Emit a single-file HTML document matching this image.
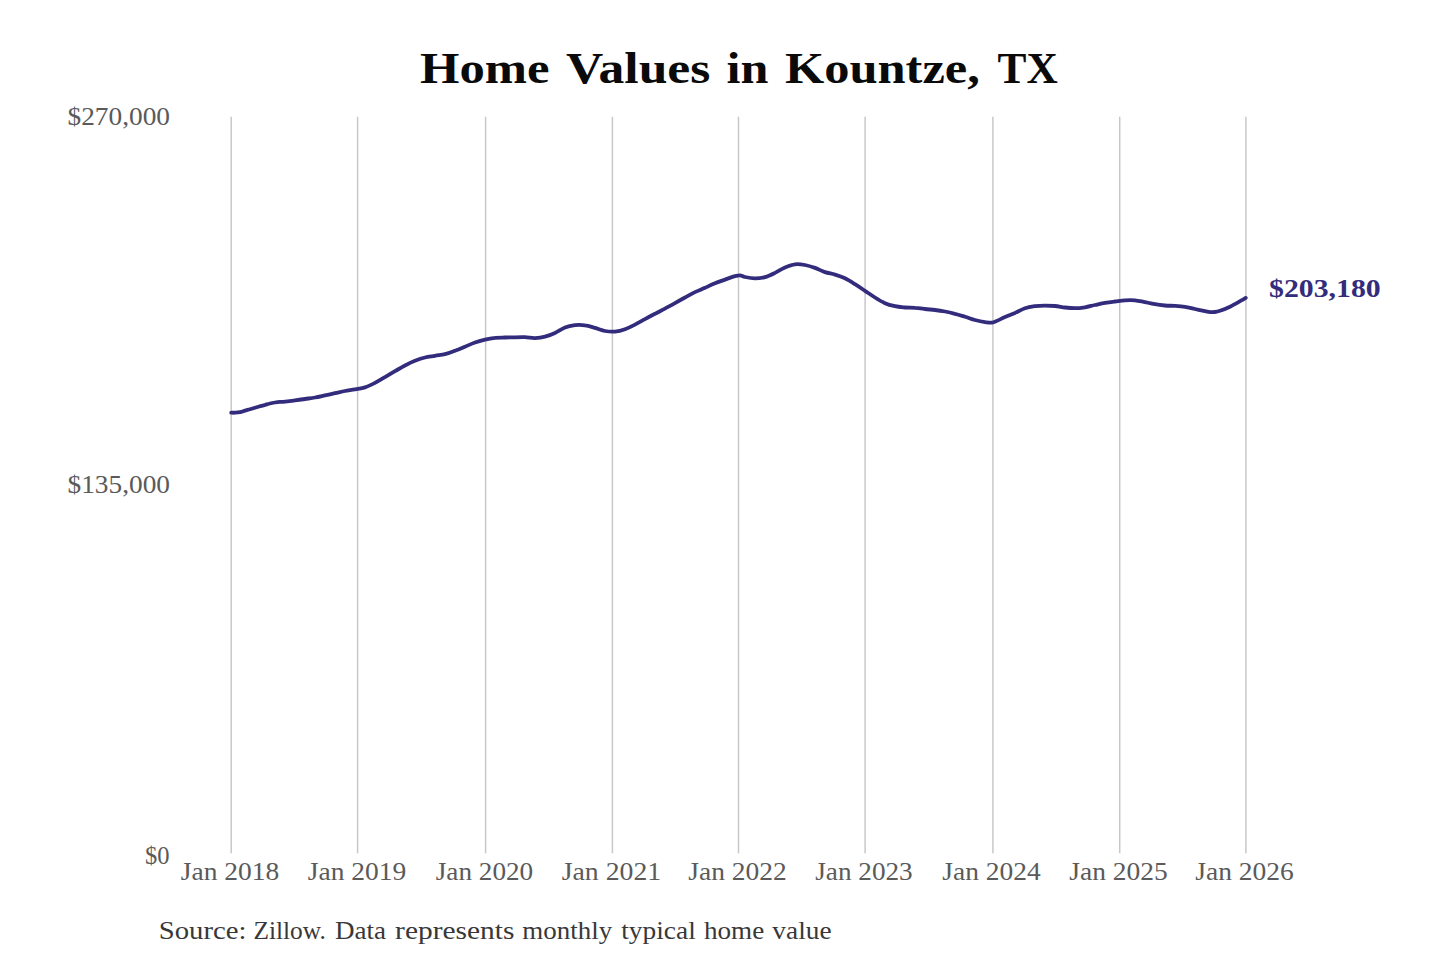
<!DOCTYPE html>
<html><head><meta charset="utf-8"><title>Home Values in Kountze, TX</title>
<style>
html,body{margin:0;padding:0;background:#fff;}
body{width:1440px;height:960px;overflow:hidden;position:relative;font-family:"Liberation Serif",serif;}
svg{position:absolute;left:0;top:0;display:block;}
text{font-family:"Liberation Serif",serif;}
</style></head><body>
<svg width="1440" height="960" viewBox="0 0 1440 960">
<rect width="1440" height="960" fill="#fff"/>
<g stroke="#c8c8c8" stroke-width="1.5" shape-rendering="auto">
<line x1="231.2" y1="116.7" x2="231.2" y2="853.3"/>
<line x1="357.6" y1="116.7" x2="357.6" y2="853.3"/>
<line x1="485.6" y1="116.7" x2="485.6" y2="853.3"/>
<line x1="612.4" y1="116.7" x2="612.4" y2="853.3"/>
<line x1="738.5" y1="116.7" x2="738.5" y2="853.3"/>
<line x1="865.1" y1="116.7" x2="865.1" y2="853.3"/>
<line x1="992.9" y1="116.7" x2="992.9" y2="853.3"/>
<line x1="1119.7" y1="116.7" x2="1119.7" y2="853.3"/>
<line x1="1245.9" y1="116.7" x2="1245.9" y2="853.3"/>
</g>
<g font-family="Liberation Serif, serif">
<!-- title -->
<text x="420.00" y="82.80" font-size="44.6" font-weight="bold" fill="#0a0a0a" textLength="129.57" lengthAdjust="spacingAndGlyphs">Home</text>
<text x="566.00" y="82.80" font-size="44.6" font-weight="bold" fill="#0a0a0a" textLength="144.37" lengthAdjust="spacingAndGlyphs">Values</text>
<text x="726.50" y="82.80" font-size="44.6" font-weight="bold" fill="#0a0a0a" textLength="41.84" lengthAdjust="spacingAndGlyphs">in</text>
<text x="785.00" y="82.80" font-size="44.6" font-weight="bold" fill="#0a0a0a" textLength="194.85" lengthAdjust="spacingAndGlyphs">Kountze,</text>
<text x="997.50" y="82.80" font-size="44.6" font-weight="bold" fill="#0a0a0a" textLength="60.22" lengthAdjust="spacingAndGlyphs">TX</text>
<!-- y axis -->
<text x="67.50" y="124.60" font-size="26" fill="#5a5a5a" textLength="102.53" lengthAdjust="spacingAndGlyphs">$270,000</text>
<text x="67.50" y="492.60" font-size="26" fill="#5a5a5a" textLength="102.53" lengthAdjust="spacingAndGlyphs">$135,000</text>
<text x="145.00" y="863.80" font-size="26" fill="#5a5a5a" textLength="24.54" lengthAdjust="spacingAndGlyphs">$0</text>
<!-- x axis -->
<text x="180.75" y="879.90" font-size="26" fill="#5a5a5a" textLength="98.46" lengthAdjust="spacingAndGlyphs">Jan 2018</text>
<text x="307.75" y="879.90" font-size="26" fill="#5a5a5a" textLength="98.46" lengthAdjust="spacingAndGlyphs">Jan 2019</text>
<text x="435.75" y="879.90" font-size="26" fill="#5a5a5a" textLength="97.47" lengthAdjust="spacingAndGlyphs">Jan 2020</text>
<text x="561.75" y="879.90" font-size="26" fill="#5a5a5a" textLength="99.46" lengthAdjust="spacingAndGlyphs">Jan 2021</text>
<text x="688.25" y="879.90" font-size="26" fill="#5a5a5a" textLength="98.45" lengthAdjust="spacingAndGlyphs">Jan 2022</text>
<text x="815.25" y="879.90" font-size="26" fill="#5a5a5a" textLength="97.48" lengthAdjust="spacingAndGlyphs">Jan 2023</text>
<text x="942.25" y="879.90" font-size="26" fill="#5a5a5a" textLength="98.48" lengthAdjust="spacingAndGlyphs">Jan 2024</text>
<text x="1069.25" y="879.90" font-size="26" fill="#5a5a5a" textLength="98.47" lengthAdjust="spacingAndGlyphs">Jan 2025</text>
<text x="1195.25" y="879.90" font-size="26" fill="#5a5a5a" textLength="98.49" lengthAdjust="spacingAndGlyphs">Jan 2026</text>
<!-- latest value -->
<text x="1269.00" y="297.10" font-size="25" font-weight="bold" fill="#332c7c" textLength="111.72" lengthAdjust="spacingAndGlyphs">$203,180</text>
<!-- source -->
<text x="158.75" y="939.00" font-size="24.7" fill="#383838" textLength="87.73" lengthAdjust="spacingAndGlyphs">Source:</text>
<text x="253.41" y="939.00" font-size="24.7" fill="#383838" textLength="72.43" lengthAdjust="spacingAndGlyphs">Zillow.</text>
<text x="334.98" y="939.00" font-size="24.7" fill="#383838" textLength="51.03" lengthAdjust="spacingAndGlyphs">Data</text>
<text x="395.08" y="939.00" font-size="24.7" fill="#383838" textLength="119.38" lengthAdjust="spacingAndGlyphs">represents</text>
<text x="522.30" y="939.00" font-size="24.7" fill="#383838" textLength="89.81" lengthAdjust="spacingAndGlyphs">monthly</text>
<text x="621.27" y="939.00" font-size="24.7" fill="#383838" textLength="74.49" lengthAdjust="spacingAndGlyphs">typical</text>
<text x="704.00" y="939.00" font-size="24.7" fill="#383838" textLength="60.20" lengthAdjust="spacingAndGlyphs">home</text>
<text x="772.37" y="939.00" font-size="24.7" fill="#383838" textLength="59.20" lengthAdjust="spacingAndGlyphs">value</text>
</g>
<path d="M231.2,412.7 C231.8,412.7 233.5,412.8 235.0,412.7 C236.5,412.6 238.3,412.5 240.0,412.1 C241.7,411.8 243.3,411.1 245.0,410.6 C246.7,410.1 248.3,409.7 250.0,409.2 C251.7,408.7 253.3,408.2 255.0,407.7 C256.7,407.2 258.3,406.7 260.0,406.2 C261.7,405.8 263.3,405.5 265.0,405.0 C266.7,404.5 268.3,403.9 270.0,403.5 C271.7,403.1 273.3,402.8 275.0,402.5 C276.7,402.2 278.3,402.0 280.0,401.9 C281.7,401.8 282.5,401.9 285.0,401.6 C287.5,401.4 291.7,400.8 295.0,400.4 C298.3,400.0 301.7,399.5 305.0,399.0 C308.3,398.5 311.7,398.1 315.0,397.5 C318.3,396.9 321.7,396.1 325.0,395.4 C328.3,394.7 331.7,393.9 335.0,393.2 C338.3,392.5 341.7,391.6 345.0,391.0 C348.3,390.4 351.7,389.9 355.0,389.3 C358.3,388.7 361.7,388.5 365.0,387.4 C368.3,386.3 371.7,384.6 375.0,382.9 C378.3,381.2 381.7,379.0 385.0,377.1 C388.3,375.2 391.7,373.2 395.0,371.2 C398.3,369.3 401.7,367.2 405.0,365.5 C408.3,363.8 411.7,362.1 415.0,360.8 C418.3,359.5 421.7,358.3 425.0,357.5 C428.3,356.7 431.7,356.4 435.0,355.8 C438.3,355.2 441.7,355.0 445.0,354.2 C448.3,353.4 451.7,352.1 455.0,350.8 C458.3,349.6 461.7,348.1 465.0,346.7 C468.3,345.3 471.7,343.7 475.0,342.5 C478.3,341.3 481.7,340.4 485.0,339.6 C488.3,338.8 491.7,338.2 495.0,337.9 C498.3,337.5 501.7,337.6 505.0,337.5 C508.3,337.4 511.7,337.4 515.0,337.3 C518.3,337.2 521.7,337.1 525.0,337.2 C528.3,337.3 531.7,338.2 535.0,338.1 C538.3,338.0 541.7,337.6 545.0,336.7 C548.3,335.8 551.7,334.4 555.0,332.9 C558.3,331.4 561.7,328.8 565.0,327.5 C568.3,326.2 571.7,325.6 575.0,325.2 C578.3,324.8 581.7,324.9 585.0,325.4 C588.3,325.8 591.7,327.0 595.0,327.9 C598.3,328.8 601.7,330.4 605.0,331.0 C608.3,331.6 611.7,331.9 615.0,331.6 C618.3,331.3 621.7,330.4 625.0,329.2 C628.3,328.0 631.7,326.3 635.0,324.6 C638.3,322.9 641.7,320.9 645.0,319.1 C648.3,317.3 651.7,315.5 655.0,313.8 C658.3,312.0 661.7,310.4 665.0,308.6 C668.3,306.8 671.7,305.0 675.0,303.1 C678.3,301.2 681.7,299.3 685.0,297.5 C688.3,295.7 691.7,293.7 695.0,292.1 C698.3,290.5 701.7,289.3 705.0,287.8 C708.3,286.3 711.7,284.7 715.0,283.3 C718.3,281.9 721.7,280.8 725.0,279.6 C728.3,278.4 732.5,276.9 735.0,276.2 C737.5,275.6 738.3,275.3 740.0,275.4 C741.7,275.5 742.5,276.5 745.0,277.0 C747.5,277.5 751.7,278.3 755.0,278.3 C758.3,278.3 761.7,278.0 765.0,277.1 C768.3,276.2 771.7,274.5 775.0,272.9 C778.3,271.3 781.7,268.9 785.0,267.5 C788.3,266.1 791.7,264.7 795.0,264.3 C798.3,263.9 801.7,264.4 805.0,265.0 C808.3,265.6 811.7,266.7 815.0,267.9 C818.3,269.1 821.7,271.0 825.0,272.1 C828.3,273.2 831.7,273.6 835.0,274.6 C838.3,275.6 841.7,276.7 845.0,278.3 C848.3,279.9 851.7,282.1 855.0,284.2 C858.3,286.3 861.7,288.6 865.0,290.8 C868.3,293.0 871.7,295.4 875.0,297.5 C878.3,299.6 881.7,301.7 885.0,303.2 C888.3,304.7 891.7,305.5 895.0,306.2 C898.3,307.0 901.7,307.2 905.0,307.5 C908.3,307.8 911.7,307.6 915.0,307.9 C918.3,308.1 921.7,308.6 925.0,309.0 C928.3,309.4 931.7,309.6 935.0,310.0 C938.3,310.4 941.7,310.9 945.0,311.5 C948.3,312.1 951.7,312.9 955.0,313.8 C958.3,314.6 961.7,315.7 965.0,316.7 C968.3,317.7 971.7,319.1 975.0,320.0 C978.3,320.9 982.0,321.7 985.0,322.1 C988.0,322.5 989.7,323.2 993.0,322.4 C996.3,321.5 1001.3,318.6 1005.0,317.0 C1008.7,315.4 1011.7,314.3 1015.0,312.9 C1018.3,311.4 1021.7,309.4 1025.0,308.3 C1028.3,307.2 1031.7,306.7 1035.0,306.2 C1038.3,305.8 1041.7,305.7 1045.0,305.7 C1048.3,305.7 1051.7,305.7 1055.0,306.0 C1058.3,306.3 1061.7,307.1 1065.0,307.5 C1068.3,307.9 1071.7,308.2 1075.0,308.2 C1078.3,308.2 1081.7,307.8 1085.0,307.3 C1088.3,306.8 1091.7,305.7 1095.0,305.0 C1098.3,304.3 1101.7,303.5 1105.0,302.9 C1108.3,302.3 1111.7,301.9 1115.0,301.5 C1118.3,301.1 1121.7,300.5 1125.0,300.3 C1128.3,300.1 1131.7,300.0 1135.0,300.3 C1138.3,300.6 1141.7,301.5 1145.0,302.1 C1148.3,302.8 1151.7,303.6 1155.0,304.2 C1158.3,304.8 1161.7,305.2 1165.0,305.5 C1168.3,305.8 1171.7,305.7 1175.0,305.9 C1178.3,306.1 1181.7,306.3 1185.0,306.8 C1188.3,307.3 1191.7,308.3 1195.0,309.0 C1198.3,309.7 1202.5,310.6 1205.0,311.1 C1207.5,311.6 1208.3,312.0 1210.0,312.1 C1211.7,312.2 1213.3,312.2 1215.0,312.0 C1216.7,311.8 1217.5,311.7 1220.0,310.8 C1222.5,309.9 1226.7,308.3 1230.0,306.7 C1233.3,305.1 1237.4,302.7 1240.0,301.2 C1242.6,299.8 1244.8,298.5 1245.7,297.9" fill="none" stroke="#332c7c" stroke-width="3.8" stroke-linecap="round" stroke-linejoin="round"/>
</svg>
</body></html>
